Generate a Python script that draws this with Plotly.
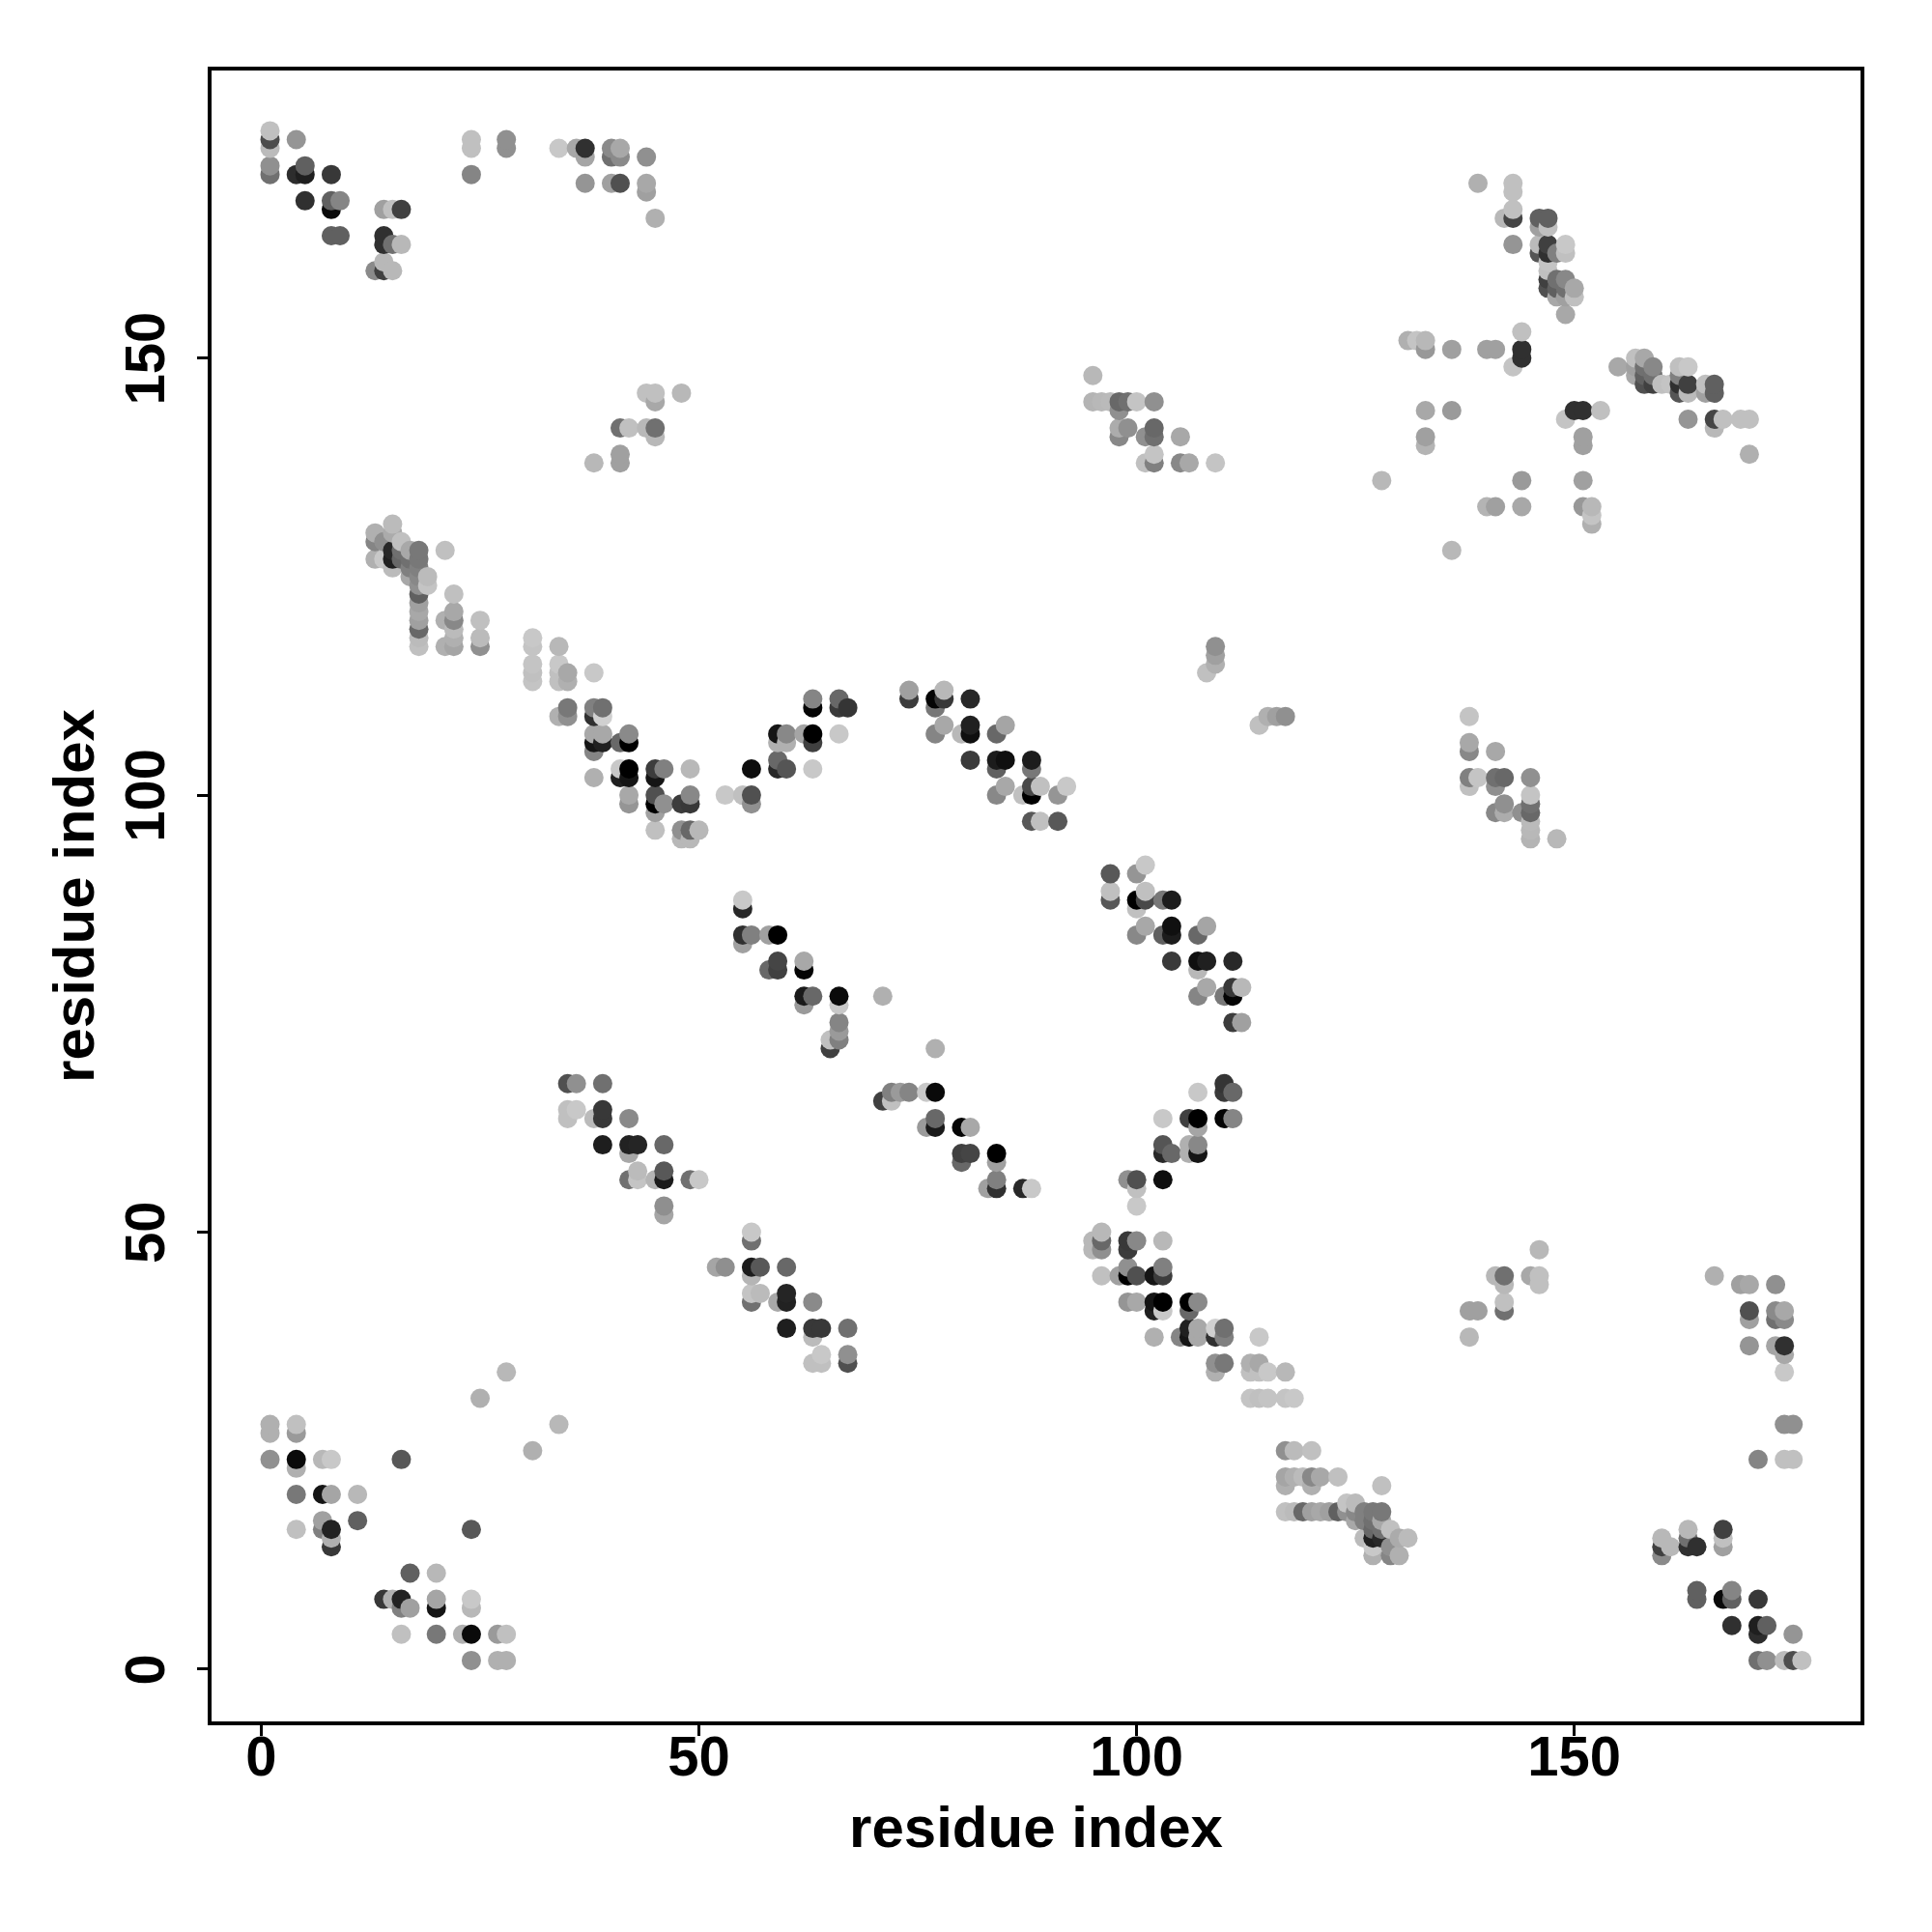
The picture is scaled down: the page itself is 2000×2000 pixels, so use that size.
import plotly.graph_objects as go

# (residue i, residue j, grey shade 0-255); the contact map is symmetric, j > i listed
corner_low = [
 (1,28,0xb0),(1,27,0xb0),(1,24,0x90),(4,28,0xc0),(4,27,0x9a),(4,24,0x0a),(4,23,0xb0),(4,20,0x78),(4,16,0xc0),
 (7,24,0xb8),(8,24,0xc8),(7,20,0x15),(8,20,0xa5),(11,20,0xb8),(7,17,0xa0),(7,16,0x80),(8,16,0x22),(8,15,0xb0),
 (8,14,0x38),(11,17,0x60),(16,24,0x58),(25,31,0xb0),(28,34,0xb8),
]
helix_mid = [
 (35,67,0x50),(36,67,0x90),(39,67,0x70),(35,64,0xc0),(36,64,0xc8),(35,63,0xc0),(39,64,0x38),(39,63,0x38),(38,63,0xbb),
 (42,63,0x8a),(39,60,0x1e),(42,60,0x22),(43,60,0x25),(46,60,0x68),(42,59,0xa8),(42,56,0x70),(43,57,0xbb),(43,56,0xc4),
 (45,56,0xb5),(46,57,0x58),(46,56,0x1c),(49,56,0x70),(50,56,0xc8),(46,53,0x8f),(46,52,0xa5),
]
strand_a = [
 (65,71,0x40),(66,72,0x80),(66,73,0x9a),(66,74,0x85),(65,72,0xc0),(66,76,0xc8),(66,77,0x0a),(71,77,0xb0),(63,77,0x68),
 (62,77,0x1a),(62,76,0x9a),(62,80,0x05),(62,81,0xa8),(59,80,0x40),(58,80,0x68),(59,81,0x45),(59,84,0x00),(58,84,0xa0),
 (56,84,0x80),(55,84,0x30),(55,83,0xa0),(55,87,0x28),(55,88,0xc8),
]
chain_left = [
 (31,118,0xc8),(31,117,0xc4),(31,115,0xc4),(31,114,0xc0),(31,113,0xc4),(34,117,0xb8),(34,115,0xc8),(34,114,0xc0),(34,113,0xc0),
 (35,114,0xa8),(35,113,0xb0),(38,114,0xc8),(34,109,0xb0),(35,110,0x78),(35,109,0x90),(38,110,0x80),(38,109,0x30),(39,110,0x70),
 (39,109,0xd0),(38,107,0xa8),(39,107,0xa8),(38,106,0x15),(39,106,0x20),(38,105,0x85),(41,106,0x68),(42,107,0x8a),(42,106,0x00),
 (38,102,0xb0),(41,103,0xc8),(42,103,0x00),(41,102,0x20),(42,102,0x15),(45,103,0x3c),(46,103,0x80),(45,102,0x15),(49,103,0xb8),
 (42,100,0xa8),(42,99,0x95),(45,100,0x50),(45,99,0x00),(45,98,0xa0),(46,99,0x90),(48,99,0x3c),(49,99,0x38),(49,100,0x88),
 (45,96,0xc0),(48,96,0x90),(48,95,0xb8),(49,96,0x68),(49,95,0xb8),(50,96,0xb8),
]
chain_mid = [
 (53,100,0xc8),(55,100,0xc0),(56,100,0x50),(56,99,0x90),(56,103,0x0e),(59,104,0x68),(59,103,0x28),(60,103,0x55),(59,107,0x15),
 (60,107,0x88),(59,106,0xb0),(60,106,0xb0),(62,107,0xa5),(63,107,0x00),(63,106,0x40),(63,103,0xc8),(63,111,0x85),(63,110,0x05),
 (66,111,0x68),(66,110,0x3a),(67,110,0x35),(66,107,0xc8),
]
chain_right = [
 (74,112,0xa0),(74,111,0x3c),(77,111,0x05),(77,110,0x78),(78,112,0xb8),(78,111,0x38),(81,111,0x28),(77,107,0x85),(78,108,0xa8),
 (80,107,0xb8),(81,108,0x20),(81,107,0x0f),(84,107,0x68),(85,108,0xa5),(81,104,0x3a),(84,104,0x1c),(85,104,0x10),(84,103,0x60),
 (88,104,0x1c),(88,103,0x78),(84,100,0x88),(85,101,0xa8),(87,100,0xc0),(88,101,0x48),(88,100,0x00),(89,101,0xc0),(91,100,0x95),
 (92,101,0xc8),(88,97,0x58),(89,97,0xc0),(91,97,0x58),
]
tail_left = [
 (13,130,0xb0),(13,129,0x85),(13,127,0xb0),(14,129,0x90),(14,127,0xc8),(15,131,0xbb),(15,130,0xab),(15,128,0x28),(15,127,0x20),
 (15,126,0xbb),(16,129,0xc0),(16,128,0x70),(16,127,0x68),(17,128,0xa8),(17,127,0x70),(17,126,0x80),(17,125,0xa8),
 (18,128,0x78),(18,127,0x78),(18,126,0x80),(18,125,0x88),(18,124,0x90),(18,123,0x60),(18,122,0xa0),(18,121,0xa8),(18,120,0xa0),
 (18,119,0x68),(18,118,0xbb),(18,117,0xc0),(19,125,0xbb),(19,124,0xc4),(21,128,0xc0),(21,120,0xb0),(21,117,0xb0),
 (22,123,0xc0),(22,121,0xa8),(22,120,0x88),(22,119,0xbb),(22,118,0xb0),(22,117,0xa5),(25,120,0xc0),(25,118,0xbb),(25,117,0x90),
]
far_a = [
 (38,138,0xb8),(41,142,0x70),(42,142,0xc0),(41,139,0xa0),(41,138,0xa0),(44,142,0xb8),(45,142,0x70),(45,141,0xb8),
 (44,146,0xc0),(45,146,0xc0),(45,145,0xa8),(48,146,0xb8),(108,114,0xc0),(109,115,0xb0),(109,116,0xa0),(109,117,0x90),
]
far_b = [
 (95,148,0xb8),(95,145,0xb4),(96,145,0xb8),(97,145,0xba),(98,145,0x68),(99,145,0x70),(100,145,0xc4),(102,145,0x90),(98,144,0x90),
 (98,142,0xac),(99,142,0x90),(98,141,0x88),(101,141,0x90),(102,142,0x68),(102,141,0x70),(105,141,0xa8),(101,138,0xc0),(102,139,0xc4),
 (102,138,0x80),(105,138,0x88),(106,138,0xa8),(109,138,0xc4),
]
top_right = [
 (128,136,0xb8),(131,152,0xb0),(132,152,0xc4),(133,140,0xb4),(133,141,0xa0),(133,144,0xa8),(133,151,0x98),(133,152,0xb8),(136,144,0x9a),
 (136,151,0xa0),(139,170,0xb0),(140,151,0xa0),(141,151,0xa0),(142,166,0xb8),(143,149,0xc4),(143,163,0x95),(143,166,0x45),(143,167,0xc0),
 (143,169,0xc0),(143,170,0xc0),(144,150,0x30),(144,151,0x30),(144,153,0xc0),(146,162,0x55),(146,163,0xbb),(146,165,0xa0),(146,166,0x60),
 (147,158,0x50),(147,159,0x40),(147,160,0xc0),(147,161,0xc4),(147,162,0x30),(147,163,0x40),(147,165,0xc0),(147,166,0x60),(148,157,0xa8),
 (148,158,0x60),(148,159,0x70),(148,162,0x80),(149,155,0xa8),(149,157,0xa0),(149,158,0x70),(149,159,0x88),(149,162,0xc0),(149,163,0xc8),
 (150,157,0xc0),(150,158,0xa8),
]
top_left = [
 (1,176,0xc0),(1,175,0x4d),(1,174,0xbb),(1,172,0x90),(1,171,0x70),(4,175,0x95),(4,171,0x2d),(5,172,0x60),(5,171,0x1f),(5,168,0x30),
 (8,171,0x38),(8,168,0x60),(8,167,0x0a),(9,168,0x85),(8,164,0x60),(9,164,0x60),(14,167,0xa0),(15,167,0xc0),(16,167,0x40),(14,164,0x30),
 (14,163,0x30),(15,163,0x70),(16,163,0xb8),(14,161,0xb8),(13,160,0x8a),(14,160,0x40),(15,160,0xb8),(24,175,0xc0),(24,174,0xc0),(24,171,0x85),
 (28,175,0x90),(28,174,0x90),(34,174,0xc8),(36,174,0xa8),(37,174,0x30),(37,173,0xa5),(40,174,0x8a),(40,173,0x70),(41,174,0xa8),(41,173,0x8a),
 (44,173,0x90),(37,170,0x95),(40,170,0xa0),(41,170,0x50),(44,170,0xa8),(44,169,0xa0),(45,166,0xb0),
]
tick_values = [0, 50, 100, 150]
axis_label = "residue index"

contacts = (corner_low + helix_mid + strand_a + chain_left + chain_mid + chain_right
            + tail_left + far_a + far_b + top_right + top_left)
both = sorted({(a, b): s for a, b, s in contacts + [(b, a, s) for a, b, s in contacts]}.items())
xs = [k[0] for k, s in both]
ys = [k[1] for k, s in both]
shades = [s for k, s in both]

fig = go.Figure(go.Scatter(
    x=xs, y=ys, mode="markers", showlegend=False,
    marker=dict(size=20, color=shades, cmin=0, cmax=255, showscale=False,
                colorscale=[[0, "#000000"], [1, "#ffffff"]], line=dict(width=0)),
))
tick_font = dict(family="Liberation Sans", size=58, color="black", weight="bold")
title_font = dict(family="Liberation Sans", size=60, color="black", weight="bold")
common = dict(tickvals=tick_values, ticks="outside", ticklen=11, tickwidth=3, tickcolor="black",
              showgrid=False, zeroline=False, showline=True, linewidth=3.5, linecolor="black",
              mirror=True, tickfont=tick_font)
fig.update_xaxes(range=[-5.68, 182.7], ticklabelstandoff=-28,
                 title=dict(text=axis_label, font=title_font, standoff=22), **common)
fig.update_yaxes(range=[-5.97, 182.9], tickangle=-90, ticklabelstandoff=11, ticklabelshift=9,
                 title=dict(text=axis_label, font=title_font, standoff=1), **common)
fig.update_layout(width=2000, height=2000, autosize=False, paper_bgcolor="white", plot_bgcolor="white",
                  margin=dict(l=211, r=82, t=65, b=226))
fig.write_html("out.html")
